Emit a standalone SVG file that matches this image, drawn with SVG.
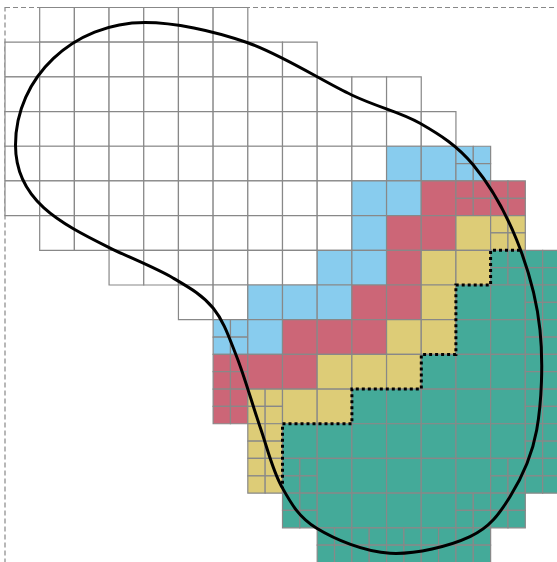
<svg xmlns="http://www.w3.org/2000/svg" xmlns:xlink="http://www.w3.org/1999/xlink" width="557" height="562" viewBox="0 0 557 562">
<style>
  .g rect, #q rect { stroke: #888; stroke-width: 1.2; vector-effect: non-scaling-stroke; }
  .w { fill: #ffffff; }
  .b { fill: #88CCEE; }
  .r { fill: #CC6677; }
  .y { fill: #DDCC77; }
  .t { fill: #44AA99; }
  .frame { fill: none; stroke: #888; stroke-width: 1.2; stroke-dasharray: 5 3; }
  .curve { fill: none; stroke: #000; stroke-width: 3; }
  .dots { fill: none; stroke: #000; stroke-width: 3; stroke-dasharray: 3 3; }
</style>
<defs>
  <g id="q">
    <rect x="0" y="0" width="0.5" height="0.5" stroke="#888" stroke-width="1.2" vector-effect="non-scaling-stroke"/>
    <rect x="0.5" y="0" width="0.5" height="0.5" stroke="#888" stroke-width="1.2" vector-effect="non-scaling-stroke"/>
    <rect x="0" y="0.5" width="0.5" height="0.5" stroke="#888" stroke-width="1.2" vector-effect="non-scaling-stroke"/>
    <rect x="0.5" y="0.5" width="0.5" height="0.5" stroke="#888" stroke-width="1.2" vector-effect="non-scaling-stroke"/>
  </g>
</defs>
<rect width="557" height="562" fill="#fff"/>
<rect class="frame" x="5" y="7.5" width="555" height="555"/>
<g id="grid" class="g" transform="translate(5 7.5) scale(34.6875)">
  <g id="white" class="w">
    <rect x="1" y="0" width="1" height="1"/><rect x="2" y="0" width="1" height="1"/><rect x="3" y="0" width="1" height="1"/><rect x="4" y="0" width="1" height="1"/><rect x="5" y="0" width="1" height="1"/><rect x="6" y="0" width="1" height="1"/>
    <rect x="0" y="1" width="1" height="1"/><rect x="1" y="1" width="1" height="1"/><rect x="2" y="1" width="1" height="1"/><rect x="3" y="1" width="1" height="1"/><rect x="4" y="1" width="1" height="1"/><rect x="5" y="1" width="1" height="1"/><rect x="6" y="1" width="1" height="1"/><rect x="7" y="1" width="1" height="1"/><rect x="8" y="1" width="1" height="1"/>
    <rect x="0" y="2" width="1" height="1"/><rect x="1" y="2" width="1" height="1"/><rect x="2" y="2" width="1" height="1"/><rect x="3" y="2" width="1" height="1"/><rect x="4" y="2" width="1" height="1"/><rect x="5" y="2" width="1" height="1"/><rect x="6" y="2" width="1" height="1"/><rect x="7" y="2" width="1" height="1"/><rect x="8" y="2" width="1" height="1"/><rect x="9" y="2" width="1" height="1"/><rect x="10" y="2" width="1" height="1"/><rect x="11" y="2" width="1" height="1"/>
    <rect x="0" y="3" width="1" height="1"/><rect x="1" y="3" width="1" height="1"/><rect x="2" y="3" width="1" height="1"/><rect x="3" y="3" width="1" height="1"/><rect x="4" y="3" width="1" height="1"/><rect x="5" y="3" width="1" height="1"/><rect x="6" y="3" width="1" height="1"/><rect x="7" y="3" width="1" height="1"/><rect x="8" y="3" width="1" height="1"/><rect x="9" y="3" width="1" height="1"/><rect x="10" y="3" width="1" height="1"/><rect x="11" y="3" width="1" height="1"/><rect x="12" y="3" width="1" height="1"/>
    <rect x="0" y="4" width="1" height="1"/><rect x="1" y="4" width="1" height="1"/><rect x="2" y="4" width="1" height="1"/><rect x="3" y="4" width="1" height="1"/><rect x="4" y="4" width="1" height="1"/><rect x="5" y="4" width="1" height="1"/><rect x="6" y="4" width="1" height="1"/><rect x="7" y="4" width="1" height="1"/><rect x="8" y="4" width="1" height="1"/><rect x="9" y="4" width="1" height="1"/><rect x="10" y="4" width="1" height="1"/>
    <rect x="0" y="5" width="1" height="1"/><rect x="1" y="5" width="1" height="1"/><rect x="2" y="5" width="1" height="1"/><rect x="3" y="5" width="1" height="1"/><rect x="4" y="5" width="1" height="1"/><rect x="5" y="5" width="1" height="1"/><rect x="6" y="5" width="1" height="1"/><rect x="7" y="5" width="1" height="1"/><rect x="8" y="5" width="1" height="1"/><rect x="9" y="5" width="1" height="1"/>
    <rect x="1" y="6" width="1" height="1"/><rect x="2" y="6" width="1" height="1"/><rect x="3" y="6" width="1" height="1"/><rect x="4" y="6" width="1" height="1"/><rect x="5" y="6" width="1" height="1"/><rect x="6" y="6" width="1" height="1"/><rect x="7" y="6" width="1" height="1"/><rect x="8" y="6" width="1" height="1"/><rect x="9" y="6" width="1" height="1"/>
    <rect x="3" y="7" width="1" height="1"/><rect x="4" y="7" width="1" height="1"/><rect x="5" y="7" width="1" height="1"/><rect x="6" y="7" width="1" height="1"/><rect x="7" y="7" width="1" height="1"/><rect x="8" y="7" width="1" height="1"/>
    <rect x="5" y="8" width="1" height="1"/><rect x="6" y="8" width="1" height="1"/>
  </g>
  <g id="blue" class="b">
    <rect x="11" y="4" width="1" height="1"/><rect x="12" y="4" width="1" height="1"/><use href="#q" x="13" y="4"/>
    <rect x="10" y="5" width="1" height="1"/><rect x="11" y="5" width="1" height="1"/>
    <rect x="10" y="6" width="1" height="1"/>
    <rect x="9" y="7" width="1" height="1"/><rect x="10" y="7" width="1" height="1"/>
    <rect x="7" y="8" width="1" height="1"/><rect x="8" y="8" width="1" height="1"/><rect x="9" y="8" width="1" height="1"/>
    <use href="#q" x="6" y="9"/><rect x="7" y="9" width="1" height="1"/>
  </g>
  <g id="red" class="r">
    <rect x="12" y="5" width="1" height="1"/><use href="#q" x="13" y="5"/><use href="#q" x="14" y="5"/>
    <rect x="11" y="6" width="1" height="1"/><rect x="12" y="6" width="1" height="1"/>
    <rect x="11" y="7" width="1" height="1"/>
    <rect x="10" y="8" width="1" height="1"/><rect x="11" y="8" width="1" height="1"/>
    <rect x="8" y="9" width="1" height="1"/><rect x="9" y="9" width="1" height="1"/><rect x="10" y="9" width="1" height="1"/>
    <use href="#q" x="6" y="10"/><rect x="7" y="10" width="1" height="1"/><rect x="8" y="10" width="1" height="1"/>
    <use href="#q" x="6" y="11"/>
  </g>
  <g id="yellow" class="y">
    <rect x="13" y="6" width="1" height="1"/><use href="#q" x="14" y="6"/>
    <rect x="12" y="7" width="1" height="1"/><rect x="13" y="7" width="1" height="1"/>
    <rect x="12" y="8" width="1" height="1"/>
    <rect x="11" y="9" width="1" height="1"/><rect x="12" y="9" width="1" height="1"/>
    <rect x="9" y="10" width="1" height="1"/><rect x="10" y="10" width="1" height="1"/><rect x="11" y="10" width="1" height="1"/>
    <use href="#q" x="7" y="11"/><rect x="8" y="11" width="1" height="1"/><rect x="9" y="11" width="1" height="1"/>
    <use href="#q" x="7" y="12"/>
    <use href="#q" x="7" y="13"/>
  </g>
  <g id="teal" class="t">
    <use href="#q" x="14" y="7"/><use href="#q" x="15" y="7"/>
    <rect x="13" y="8" width="1" height="1"/><rect x="14" y="8" width="1" height="1"/><use href="#q" x="15" y="8"/>
    <rect x="13" y="9" width="1" height="1"/><rect x="14" y="9" width="1" height="1"/><use href="#q" x="15" y="9"/>
    <rect x="12" y="10" width="1" height="1"/><rect x="13" y="10" width="1" height="1"/><rect x="14" y="10" width="1" height="1"/><use href="#q" x="15" y="10"/>
    <rect x="10" y="11" width="1" height="1"/><rect x="11" y="11" width="1" height="1"/><rect x="12" y="11" width="1" height="1"/><rect x="13" y="11" width="1" height="1"/><rect x="14" y="11" width="1" height="1"/><use href="#q" x="15" y="11"/>
    <rect x="8" y="12" width="1" height="1"/><rect x="9" y="12" width="1" height="1"/><rect x="10" y="12" width="1" height="1"/><rect x="11" y="12" width="1" height="1"/><rect x="12" y="12" width="1" height="1"/><rect x="13" y="12" width="1" height="1"/><rect x="14" y="12" width="1" height="1"/><use href="#q" x="15" y="12"/>
    <use href="#q" x="8" y="13"/><rect x="9" y="13" width="1" height="1"/><rect x="10" y="13" width="1" height="1"/><rect x="11" y="13" width="1" height="1"/><rect x="12" y="13" width="1" height="1"/><rect x="13" y="13" width="1" height="1"/><use href="#q" x="14" y="13"/><use href="#q" x="15" y="13"/>
    <use href="#q" x="8" y="14"/><rect x="9" y="14" width="1" height="1"/><rect x="10" y="14" width="1" height="1"/><rect x="11" y="14" width="1" height="1"/><rect x="12" y="14" width="1" height="1"/><use href="#q" x="13" y="14"/><use href="#q" x="14" y="14"/>
    <use href="#q" x="9" y="15"/><use href="#q" x="10" y="15"/><use href="#q" x="11" y="15"/><use href="#q" x="12" y="15"/><use href="#q" x="13" y="15"/>
  </g>
</g>
<path id="boundary" class="dots" d="M 520 250.3 H 490.6 V 285 H 455.9 V 354.4 H 421.3 V 389.1 H 351.9 V 423.8 H 282.5 V 488"/>
<path id="curve" class="curve" d="M 145 22.5 C 174 22.5 212.3 30.45 247 42.5 C 281.8 54.6 322.9 81.5 351.7 95 C 380.5 108.5 399.7 111.6 420 123.3 C 440.3 135 457.2 145.55 473.3 165 C 489.4 184.45 505.6 212.5 516.7 240 C 527.8 267.5 536.7 298.3 540 330 C 543.3 361.7 541.7 402.2 536.7 430 C 531.7 457.8 521.1 478.9 510 496.7 C 498.9 514.5 490 527.3 470 536.7 C 450 546.1 415.6 554.7 390 553.3 C 364.4 551.9 334.75 539.4 316.7 528.3 C 298.65 517.2 291.15 503.6 281.7 486.7 C 272.25 469.8 267.5 448.4 260 426.7 C 252.5 405 244.5 376.4 236.7 356.7 C 228.9 337 223.9 321.4 213.3 308.3 C 202.7 295.2 190.4 288.2 173 278 C 155.6 267.8 128.65 257.25 108.7 247.3 C 59.5 222.8 15.5 200 15.5 145 C 15.5 77.4 73.5 22.5 145 22.5 Z"/>
</svg>
